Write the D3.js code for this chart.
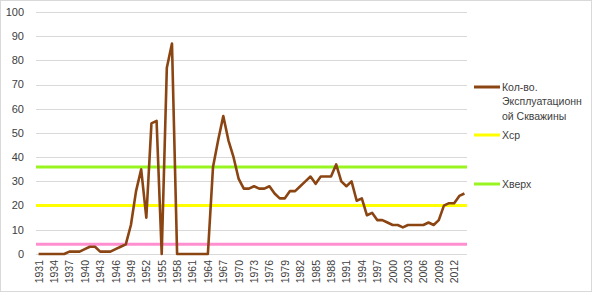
<!DOCTYPE html>
<meta charset="utf-8">
<script src="https://d3js.org/d3.v7.min.js"></script>
<style>
  body { margin: 0; background: #fff; }
  text { font-family: "Liberation Sans", Arial, sans-serif; fill: #404040; }
</style>
<div id="chart"></div>
<script>

// categories: years
var years = d3.range(1931, 2015);

// number of production wells by year
var wells = [
  0, 0, 0, 0, 0, 0, 1, 1, 1, 2,
  3, 3, 1, 1, 1, 2, 3, 4, 12, 26,
  35, 15, 54, 55, 0, 77, 87, 0, 0, 0,
  0, 0, 0, 0, 36, 47, 57, 47, 40, 31,
  27, 27, 28, 27, 27, 28, 25, 23, 23, 26,
  26, 28, 30, 32, 29, 32, 32, 32, 37, 30,
  28, 30, 22, 23, 16, 17, 14, 14, 13, 12,
  12, 11, 12, 12, 12, 12, 13, 12, 14, 20,
  21, 21, 24, 25
];

// reference levels
var xAvg = 20;
var xUpper = 36;
var xLower = 4;

var yTicks = [0, 10, 20, 30, 40, 50, 60, 70, 80, 90, 100];
var xTickLabels = years.filter(function (d, i) { return i % 3 === 0; });

var W = 597, H = 295;
var plot = {left: 36, right: 467, top: 12, bottom: 254};

var svg = d3.select("#chart")
  .append("svg")
    .attr("width", W)
    .attr("height", H);

// outer border
svg.append("rect")
  .attr("x", 0.5).attr("y", 0.5)
  .attr("width", 591).attr("height", 291)
  .attr("fill", "none")
  .attr("stroke", "#d9d9d9");

var x = d3.scalePoint()
  .domain(years)
  .range([plot.left, plot.right])
  .padding(0.5);

var y = d3.scaleLinear()
  .domain([0, 100])
  .range([plot.bottom, plot.top]);

// gridlines
svg.append("g")
  .selectAll("line")
  .data(yTicks)
  .enter()
  .append("line")
    .attr("x1", plot.left)
    .attr("x2", plot.right)
    .attr("y1", function (d) { return Math.round(y(d)) + 0.5; })
    .attr("y2", function (d) { return Math.round(y(d)) + 0.5; })
    .attr("stroke", "#d9d9d9")
    .attr("stroke-width", 1);

// y axis labels
svg.append("g")
  .selectAll("text")
  .data(yTicks)
  .enter()
  .append("text")
    .attr("x", 24)
    .attr("y", function (d) { return y(d); })
    .attr("dy", "0.35em")
    .attr("text-anchor", "end")
    .style("font-size", "11px")
    .text(function (d) { return d; });

// x axis labels (rotated)
svg.append("g")
  .selectAll("text")
  .data(xTickLabels)
  .enter()
  .append("text")
    .attr("transform", function (d) {
      return "translate(" + (x(d) + 4) + "," + (plot.bottom + 6) + ") rotate(-90)";
    })
    .attr("text-anchor", "end")
    .style("font-size", "10.5px")
    .text(function (d) { return d; });

// horizontal reference lines
var refs = [
  {value: xLower, color: "#ff8fcf"},
  {value: xAvg, color: "#ffff00"},
  {value: xUpper, color: "#99f51f"}
];
svg.append("g")
  .selectAll("line")
  .data(refs)
  .enter()
  .append("line")
    .attr("x1", plot.left)
    .attr("x2", plot.right)
    .attr("y1", function (d) { return y(d.value); })
    .attr("y2", function (d) { return y(d.value); })
    .attr("stroke", function (d) { return d.color; })
    .attr("stroke-width", 3);

// main series
var line = d3.line()
  .x(function (d, i) { return x(years[i]); })
  .y(function (d) { return y(d); });

svg.append("path")
  .datum(wells)
  .attr("d", line)
  .attr("fill", "none")
  .attr("stroke", "#8b4513")
  .attr("stroke-width", 2.6)
  .attr("stroke-linejoin", "round");

// legend
var legend = [
  {lines: ["Кол-во.", "Эксплуатационн", "ой Скважины"], color: "#8b4513", y: 87},
  {lines: ["Хср"], color: "#ffff00", y: 135},
  {lines: ["Хверх"], color: "#99f51f", y: 184}
];

legend.forEach(function (l) {
  svg.append("line")
    .attr("x1", 474).attr("x2", 500)
    .attr("y1", l.y).attr("y2", l.y)
    .attr("stroke", l.color)
    .attr("stroke-width", 3);
  l.lines.forEach(function (t, i) {
    svg.append("text")
      .attr("x", 502)
      .attr("y", l.y + i * 14.5)
      .attr("dy", "0.35em")
      .style("font-size", "10.5px")
      .text(t);
  });
});

</script>
